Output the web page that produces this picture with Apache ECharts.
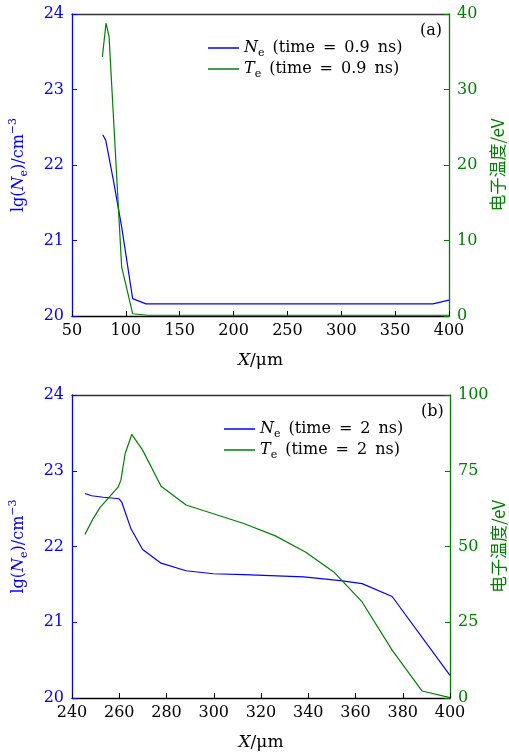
<!DOCTYPE html>
<html>
<head>
<meta charset="utf-8">
<script src="https://cdn.jsdelivr.net/npm/echarts@6/dist/echarts.min.js"></script>
<style>
  html, body { margin: 0; padding: 0; background: #fff; }
  #chart { width: 509px; height: 754px; }
</style>
</head>
<body>
<div id="chart"></div>
<script>
// panel (a): time = 0.9 ns
const neX_a = [78.5, 81.3, 88.4, 96.1, 106.3, 118.7, 385, 400];
const neY_a = [22.40, 22.33, 21.80, 21.18, 20.23, 20.16, 20.16, 20.21];
const teX_a = [78.2, 81.6, 84.4, 96.1, 106.3, 120, 400];
const teY_a = [34.3, 38.8, 37.0, 6.5, 0.3, 0.1, 0.1];

// panel (b): time = 2 ns
const neX_b = [245.5, 248.3, 253.2, 259.9, 261, 265, 269.9, 277.7, 288.3, 299.8, 312.7, 338.1, 353.6, 362.8, 375.5, 400];
const neY_b = [22.70, 22.67, 22.65, 22.63, 22.59, 22.23, 21.96, 21.78, 21.68, 21.64, 21.63, 21.60, 21.55, 21.51, 21.34, 20.30];
const teX_b = [245.5, 249, 251.9, 259.6, 260.7, 262.5, 265.3, 269.9, 277.7, 288.3, 312.7, 326.1, 338.8, 350.8, 362.8, 375.5, 388.2, 400];
const teY_b = [54.0, 59.3, 62.9, 69.7, 71.9, 80.7, 87.0, 81.8, 69.9, 63.7, 57.6, 53.5, 48.2, 41.6, 31.7, 15.8, 2.3, 0.1];

const names = ['Ne (time = 0.9 ns)', 'Te (time = 0.9 ns)', 'Ne (time = 2 ns)', 'Te (time = 2 ns)'];

const BLUE = '#0000ff';
const GREEN = '#008000';
const FONT = 'DejaVu Serif';

const zip = (xs, ys) => xs.map((x, i) => [x, ys[i]]);

function rich(size) {
    const lh = size + 6;
    return {
        i: { fontFamily: FONT, fontStyle: 'italic', fontSize: size, lineHeight: lh, verticalAlign: 'middle' },
        s: { fontFamily: FONT, fontSize: Math.round(size * 0.7), lineHeight: lh, verticalAlign: 'bottom' },
        sup: { fontFamily: FONT, fontSize: Math.round(size * 0.7), lineHeight: lh, verticalAlign: 'top' },
        t: { fontFamily: FONT, fontSize: size, lineHeight: lh, verticalAlign: 'middle' }
    };
}

function legendFmt(name) {
    const rest = name.slice(3).replace(/ = /, '\u2002=\u2002').replace(/ ns/, '\u2002ns');
    return '{i|' + name[0] + '}{s|e}{t|\u2002' + rest + '}';
}

const yName = '{t|lg(}{i|N}{s|e}{t|)/cm}{sup|−3}';
const xName = '{i|X}{t|/μm}';

function xAxes(gridIndex, min, max, interval) {
    return [{
        type: 'value', gridIndex, min, max, interval,
        position: 'bottom',
        name: xName, nameLocation: 'middle', nameGap: 33,
        nameTextStyle: { color: '#000', rich: rich(17) },
        axisLine: { lineStyle: { color: '#000', width: 1.3 } },
        axisTick: { inside: true, length: 5, lineStyle: { color: '#000' } },
        axisLabel: { color: '#000', fontFamily: FONT, fontSize: 16, margin: 7 },
        splitLine: { show: false }
    }, {
        type: 'value', gridIndex, min, max, interval,
        position: 'top',
        axisLine: { lineStyle: { color: '#333', width: 1.3 } },
        axisTick: { show: false },
        axisLabel: { show: false },
        splitLine: { show: false }
    }];
}

function yAxes(gridIndex, rMax, rInterval) {
    return [{
        type: 'value', gridIndex, min: 20, max: 24, interval: 1,
        position: 'left',
        name: yName, nameLocation: 'middle', nameRotate: 90, nameGap: 42,
        nameMoveOverlap: false,
        nameTextStyle: { color: BLUE, rich: rich(16) },
        axisLine: { lineStyle: { color: BLUE, width: 1.3 } },
        axisTick: { inside: true, length: 5, lineStyle: { color: BLUE } },
        axisLabel: { color: BLUE, fontFamily: FONT, fontSize: 16, margin: 8 },
        splitLine: { show: false }
    }, {
        type: 'value', gridIndex, min: 0, max: rMax, interval: rInterval,
        position: 'right',
        name: '电子温度/eV', nameLocation: 'middle', nameRotate: 90, nameGap: 40,
        nameMoveOverlap: false,
        nameTextStyle: { color: GREEN, fontFamily: 'Noto Sans CJK SC', fontSize: 17 },
        axisLine: { lineStyle: { color: GREEN, width: 1.3 } },
        axisTick: { inside: true, length: 5, lineStyle: { color: GREEN } },
        axisLabel: { color: GREEN, fontFamily: FONT, fontSize: 16, margin: 8 },
        splitLine: { show: false }
    }];
}

function line(name, data, xIdx, yIdx, color) {
    return {
        name, type: 'line', data, xAxisIndex: xIdx, yAxisIndex: yIdx,
        symbol: 'none', smooth: false, animation: false,
        lineStyle: { color, width: 1.2 }, itemStyle: { color }
    };
}

function legend(left, top, data) {
    return {
        data, left, top, orient: 'vertical',
        icon: 'rect', itemWidth: 31, itemHeight: 1.5, itemGap: 2,
        formatter: legendFmt,
        textStyle: { color: '#000', rich: rich(16) }
    };
}

const chart = echarts.init(document.getElementById('chart'), null, { renderer: 'canvas' });
chart.setOption({
    backgroundColor: '#fff',
    animation: false,
    grid: [
        { left: 72, right: 60, top: 14, height: 302, outerBoundsMode: 'none', containLabel: false },
        { left: 72, right: 59, top: 395, height: 303, outerBoundsMode: 'none', containLabel: false }
    ],
    xAxis: [...xAxes(0, 50, 400, 50), ...xAxes(1, 240, 400, 20)],
    yAxis: [...yAxes(0, 40, 10), ...yAxes(1, 100, 25)],
    legend: [
        legend(203, 35, [names[0], names[1]]),
        legend(219, 416, [names[2], names[3]])
    ],
    graphic: [
        { type: 'text', left: 420, top: 23, style: { text: '(a)', font: '16px "DejaVu Serif"', fill: '#000' } },
        { type: 'text', left: 421, top: 404, style: { text: '(b)', font: '16px "DejaVu Serif"', fill: '#000' } }
    ],
    series: [
        line(names[0], zip(neX_a, neY_a), 0, 0, BLUE),
        line(names[1], zip(teX_a, teY_a), 0, 1, GREEN),
        line(names[2], zip(neX_b, neY_b), 2, 2, BLUE),
        line(names[3], zip(teX_b, teY_b), 2, 3, GREEN)
    ]
});
</script>
</body>
</html>
